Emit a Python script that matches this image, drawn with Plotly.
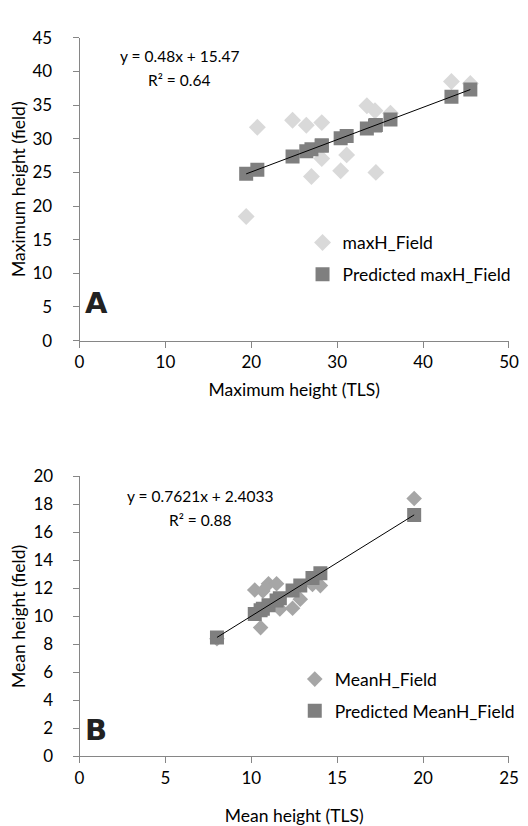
import plotly.graph_objects as go

# ---- Panel A data ----
tlsA = [19.4, 20.7, 24.8, 26.4, 27.0, 28.2, 28.2, 30.4, 31.1, 33.45, 34.4, 34.5, 36.2, 43.3, 45.5]
fieldA = [18.45, 31.7, 32.75, 32.0, 24.4, 32.4, 27.05, 25.25, 27.6, 34.9, 34.15, 25.0, 33.8, 38.5, 38.2]
predA = [24.78, 25.41, 27.37, 28.14, 28.43, 29.01, 29.01, 30.06, 30.40, 31.53, 31.98, 32.03, 32.85, 36.25, 37.31]
trendA_x = [19.4, 45.5]
trendA_y = [24.78, 37.31]

# ---- Panel B data ----
tlsB = [8.0, 10.2, 10.54, 10.67, 11.0, 11.47, 11.66, 12.4, 12.85, 13.56, 14.02, 19.48]
fieldB = [8.4, 11.89, 9.2, 11.82, 12.33, 12.33, 10.53, 10.58, 11.23, 12.28, 12.2, 18.42]
predB = [8.50, 10.18, 10.44, 10.54, 10.79, 11.14, 11.29, 11.85, 12.20, 12.74, 13.09, 17.25]
trendB_x = [8.0, 19.48]
trendB_y = [8.50, 17.25]

FONT = "Lato"
AXC = "#868686"

fig = go.Figure()

fig.add_trace(go.Scatter(x=tlsA, y=fieldA, mode="markers", name="maxH_Field",
                         marker=dict(symbol="diamond", size=13, color="#D9D9D9"),
                         xaxis="x", yaxis="y", legend="legend", legendgroup="a1"))
fig.add_trace(go.Scatter(x=tlsA, y=predA, mode="markers", name="Predicted maxH_Field",
                         marker=dict(symbol="square", size=14, color="#7F7F7F"),
                         xaxis="x", yaxis="y", legend="legend", legendgroup="a2"))
fig.add_trace(go.Scatter(x=trendA_x, y=trendA_y, mode="lines", showlegend=False,
                         line=dict(color="black", width=1), xaxis="x", yaxis="y"))

fig.add_trace(go.Scatter(x=tlsB, y=fieldB, mode="markers", name="MeanH_Field",
                         marker=dict(symbol="diamond", size=12, color="#A6A6A6"),
                         xaxis="x2", yaxis="y2", legend="legend2", legendgroup="b1"))
fig.add_trace(go.Scatter(x=tlsB, y=predB, mode="markers", name="Predicted MeanH_Field",
                         marker=dict(symbol="square", size=14, color="#7F7F7F"),
                         xaxis="x2", yaxis="y2", legend="legend2", legendgroup="b2"))
fig.add_trace(go.Scatter(x=trendB_x, y=trendB_y, mode="lines", showlegend=False,
                         line=dict(color="black", width=1), xaxis="x2", yaxis="y2"))

W, H = 528, 826
xd = [68.5 / W, 510.5 / W]
yA = [1 - 330 / H, 1 - 19.3 / H]
yB = [1 - 756.7 / H, 1 - 469.3 / H]

axis_common = dict(showgrid=False, zeroline=False, showline=True, linecolor=AXC, linewidth=1,
                   ticks="outside", ticklen=6, tickcolor=AXC,
                   tickfont=dict(family=FONT, size=17, color="black"))

TF = dict(family=FONT, size=17.5, color="black")

fig.update_layout(
    width=W, height=H, margin=dict(l=0, r=0, t=0, b=0),
    paper_bgcolor="white", plot_bgcolor="white",
    font=dict(family=FONT, color="black"),
    xaxis=dict(domain=xd, range=[0, 50], dtick=10, anchor="y",
               title=dict(text="Maximum height (TLS)", font=TF, standoff=12), **axis_common),
    yaxis=dict(domain=yA, range=[0, 45], dtick=5, anchor="x", ticklabelstandoff=17,
               title=dict(text="Maximum height (field)", font=TF, standoff=4), **axis_common),
    xaxis2=dict(domain=xd, range=[0, 25], dtick=5, anchor="y2",
                title=dict(text="Mean height (TLS)", font=TF, standoff=22), **axis_common),
    yaxis2=dict(domain=yB, range=[0, 20], dtick=2, anchor="x2", ticklabelstandoff=16,
                title=dict(text="Mean height (field)", font=TF, standoff=4), **axis_common),
    legend=dict(x=298 / W, y=1 - 211 / H, xanchor="left", yanchor="top",
                font=dict(family=FONT, size=17.5), bgcolor="rgba(0,0,0,0)",
                traceorder="grouped", tracegroupgap=6, itemwidth=30),
    legend2=dict(x=290 / W, y=1 - 659 / H, xanchor="left", yanchor="top",
                 font=dict(family=FONT, size=17.5), bgcolor="rgba(0,0,0,0)",
                 traceorder="grouped", tracegroupgap=6, itemwidth=30),
)

ann = [
    dict(text="y = 0.48x + 15.47", x=171 / W, y=1 - 38 / H),
    dict(text="R² = 0.64", x=171 / W, y=1 - 63 / H),
    dict(text="y = 0.7621x + 2.4033", x=192 / W, y=1 - 489 / H),
    dict(text="R² = 0.88", x=192 / W, y=1 - 514 / H),
]
for a in ann:
    fig.add_annotation(text=a["text"], x=a["x"], y=a["y"], xref="paper", yref="paper",
                       showarrow=False, xanchor="center", yanchor="middle",
                       font=dict(family=FONT, size=15.5, color="black"))

fig.add_annotation(text="<b>A</b>", x=86 / W, y=1 - 291 / H, xref="paper", yref="paper",
                   showarrow=False, xanchor="center", yanchor="middle",
                   font=dict(family="DejaVu Sans", size=29, color="#222222"))
fig.add_annotation(text="<b>B</b>", x=85 / W, y=1 - 730 / H, xref="paper", yref="paper",
                   showarrow=False, xanchor="center", yanchor="middle",
                   font=dict(family="DejaVu Sans", size=29, color="#222222"))

fig.write_html("out.html")
